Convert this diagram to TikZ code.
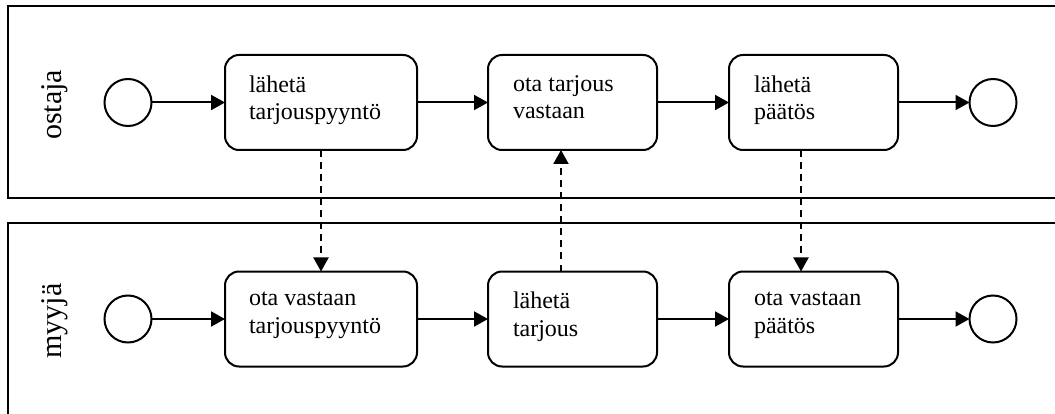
\documentclass[tikz,border=0pt]{standalone}
\usepackage{fontspec}
\setmainfont{Liberation Serif}
\usetikzlibrary{arrows.meta,calc}
\begin{document}
\begin{tikzpicture}[x=1pt,y=-1pt,
  every node/.style={inner sep=0pt,outer sep=0pt},
  pool/.style={line width=2pt},
  task/.style={draw,line width=2pt,rounded corners=14pt,minimum height=95pt},
  event/.style={draw,circle,line width=2pt,minimum size=47pt},
  tasktext/.style={anchor=north west,align=left,font=\fontsize{24}{27.5}\selectfont},
  poollabel/.style={rotate=90,anchor=base,font=\fontsize{30}{34}\selectfont},
  flow/.style={line width=2pt,-{Triangle[length=14pt,width=15pt]}},
  msg/.style={line width=2pt,dash pattern=on 7pt off 5pt,-{Triangle[length=14pt,width=15pt]}}
]
\useasboundingbox (0,0) rectangle (1055,414);
% pools
\draw[pool] (1055,6) -- (8,6) -- (8,198) -- (1055,198);
\draw[pool] (1055,223) -- (8,223) -- (8,414);
\node[poollabel] (lo) at (61,105) {ostaja};
\node[poollabel] (lm) at (61,321) {myyjä};
% top lane
\node[event] (s1) at (128,102.5) {};
\node[task,minimum width=192pt] (t1) at (321,102.5) {};
\node[task,minimum width=169pt] (t2) at (572.5,102.5) {};
\node[task,minimum width=169pt] (t3) at (813.5,102.5) {};
\node[event] (e1) at (993,102.5) {};
% bottom lane
\node[event] (s2) at (128,319) {};
\node[task,minimum width=192pt] (b1) at (321,319) {};
\node[task,minimum width=169pt] (b2) at (572.5,319) {};
\node[task,minimum width=169pt] (b3) at (813.5,319) {};
\node[event] (e2) at (993,319) {};
% texts
\node[tasktext] (tt1) at ($(t1.north west)+(24,20.5)$) {lähetä\\tarjouspyyntö};
\node[tasktext] (tt2) at ($(t2.north west)+(25,20.5)$) {ota tarjous\\vastaan};
\node[tasktext] (tt3) at ($(t3.north west)+(25,20.5)$) {lähetä\\päätös};
\node[tasktext] (bt1) at ($(b1.north west)+(24,20.5)$) {ota vastaan\\tarjouspyyntö};
\node[tasktext] (bt2) at ($(b2.north west)+(25,20.5)$) {lähetä\\tarjous};
\node[tasktext] (bt3) at ($(b3.north west)+(25,20.5)$) {ota vastaan\\päätös};
% sequence flows
\draw[flow] (s1) -- (t1);
\draw[flow] (t1) -- (t2);
\draw[flow] (t2) -- (t3);
\draw[flow] (t3) -- (e1);
\draw[flow] (s2) -- (b1);
\draw[flow] (b1) -- (b2);
\draw[flow] (b2) -- (b3);
\draw[flow] (b3) -- (e2);
% message flows
\draw[msg] (t1.south) -- (b1.north);
\draw[msg] ($(b2.north)+(-11.5,0)$) -- ($(t2.south)+(-11.5,0)$);
\draw[msg] ($(t3.south)+(-12.5,0)$) -- ($(b3.north)+(-12.5,0)$);
\end{tikzpicture}
\end{document}
